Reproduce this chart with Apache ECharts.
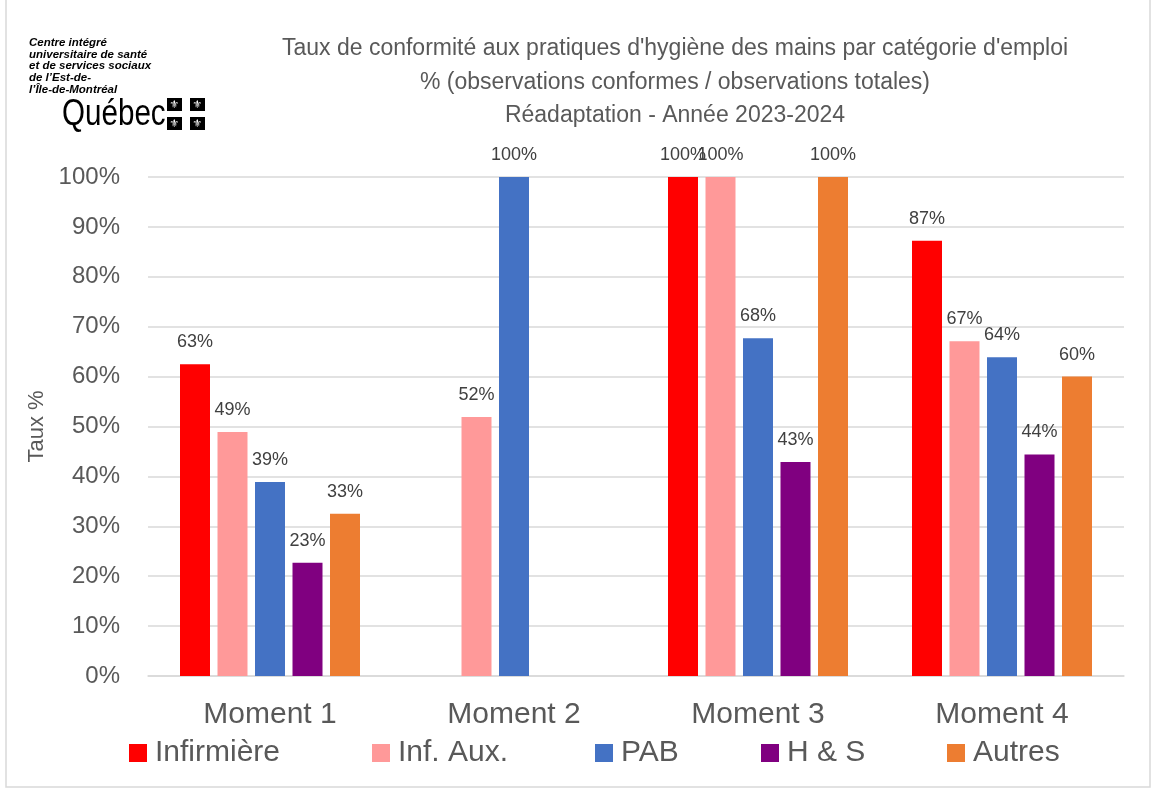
<!DOCTYPE html>
<html>
<head>
<meta charset="utf-8">
<script src="https://cdn.jsdelivr.net/npm/echarts@6/dist/echarts.min.js"></script>
<style>
    html, body { margin: 0; padding: 0; background: #fff; }
    #chart { width: 1153px; height: 790px; }
</style>
</head>
<body>
<div id="chart"></div>
<script>
    // categories and values (percent)
    var moments = ['Moment 1', 'Moment 2', 'Moment 3', 'Moment 4'];
    var infirmiere = [62.5, null, 100, 87.2];
    var infAux = [48.9, 51.9, 100, 67.1];
    var pab = [38.9, 100, 67.7, 63.9];
    var hs = [22.7, null, 42.9, 44.4];
    var autres = [32.5, null, 100, 60];
    var yTicks = [0, 10, 20, 30, 40, 50, 60, 70, 80, 90, 100];

    var FONT = "'Liberation Sans', sans-serif";
    var grey = '#595959';

    var myChart = echarts.init(document.getElementById('chart'));

    function bar(name, data, color) {
        return {
            name: name, type: 'bar', data: data,
            barWidth: 30, barGap: '25%',
            itemStyle: {color: color},
            label: {
                show: true, position: 'top', distance: 13,
                fontFamily: FONT, fontSize: 18, color: '#404040',
                formatter: function (p) { return Math.round(p.value) + '%'; }
            }
        };
    }

    var legendLeft = [129, 372, 595, 761, 947];
    var names = ['Infirmière', 'Inf. Aux.', 'PAB', 'H & S', 'Autres'];
    var legends = [];
    for (var i = 0; i < names.length; i++) {
        legends.push({
            data: [names[i]], left: legendLeft[i], top: 737, padding: 0,
            itemWidth: 18, itemHeight: 18, itemGap: 0,
            icon: 'rect',
            textStyle: {fontFamily: FONT, fontSize: 30, lineHeight: 32, color: grey, padding: [0, 0, 0, 3]}
        });
    }

    var flags = [];
    var flagPos = [[167, 98], [190, 98], [167, 117], [190, 117]];
    for (var j = 0; j < flagPos.length; j++) {
        flags.push({type: 'rect', shape: {x: flagPos[j][0], y: flagPos[j][1], width: 15, height: 13}, style: {fill: '#000'}});
        flags.push({type: 'text', x: flagPos[j][0] + 7.5, y: flagPos[j][1] + 7, style: {text: '⚜', fill: '#fff', fontSize: 11, fontFamily: 'DejaVu Sans', align: 'center', verticalAlign: 'middle'}});
    }

    var option = {
        animation: false,
        grid: {left: 148, right: 29, top: 177, bottom: 114},
        legend: legends,
        xAxis: {
            type: 'category', data: moments,
            axisLine: {lineStyle: {color: '#d9d9d9', width: 1.5}},
            axisTick: {show: false},
            axisLabel: {fontFamily: FONT, fontSize: 30, color: grey, margin: 24}
        },
        yAxis: {
            type: 'value', min: yTicks[0], max: yTicks[yTicks.length - 1], interval: 10,
            name: 'Taux %', nameLocation: 'middle', nameGap: 100,
            nameTextStyle: {fontFamily: FONT, fontSize: 22, color: grey},
            axisLabel: {formatter: '{value}%', fontFamily: FONT, fontSize: 24, color: grey, margin: 28},
            splitLine: {lineStyle: {color: '#d9d9d9', width: 1.5}},
            axisLine: {show: false}, axisTick: {show: false}
        },
        series: [
            bar('Infirmière', infirmiere, '#ff0000'),
            bar('Inf. Aux.', infAux, '#ff9999'),
            bar('PAB', pab, '#4472c4'),
            bar('H & S', hs, '#800080'),
            bar('Autres', autres, '#ed7d31')
        ],
        graphic: [
            {type: 'rect', shape: {x: 6, y: -5, width: 1144, height: 792}, style: {fill: 'none', stroke: '#d9d9d9', lineWidth: 1.5}, z: -1},
            {type: 'text', x: 675, y: 32, style: {
                text: "Taux de conformité aux pratiques d'hygiène des mains par catégorie d'emploi\n% (observations conformes / observations totales)\nRéadaptation - Année 2023-2024",
                fontFamily: FONT, fontSize: 23, lineHeight: 33.5, fill: grey, align: 'center'}},
            {type: 'text', x: 29, y: 37, style: {
                text: "Centre intégré\nuniversitaire de santé\net de services sociaux\nde l’Est-de-\nl’Île-de-Montréal",
                fontFamily: FONT, fontSize: 11.5, fontWeight: 'bold', fontStyle: 'italic', lineHeight: 11.7, fill: '#000'}},
            {type: 'text', x: 62, y: 133, scaleX: 0.8, style: {
                text: 'Québec', fontFamily: FONT, fontSize: 37, fill: '#000', verticalAlign: 'bottom'}}
        ].concat(flags)
    };

    myChart.setOption(option);
</script>
</body>
</html>
